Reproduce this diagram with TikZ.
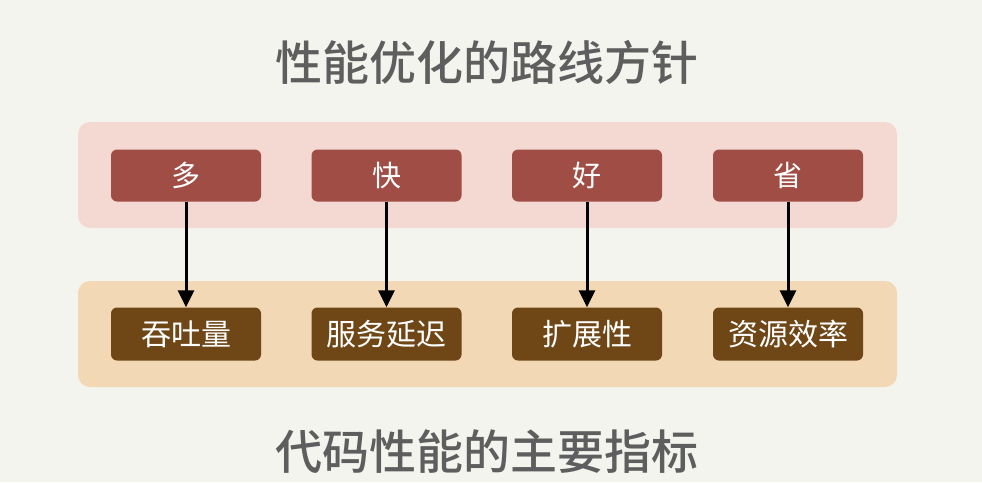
\documentclass[tikz,border=0pt]{standalone}
\usepackage{fontspec}
\newfontfamily\cjk{Noto Sans CJK SC}
\newfontfamily\cjkb{Noto Sans CJK SC Medium}
\usetikzlibrary{arrows.meta}
\definecolor{bgc}{HTML}{F4F4EF}
\definecolor{topband}{HTML}{F4D9D3}
\definecolor{botband}{HTML}{F2D8B4}
\definecolor{topbox}{HTML}{A04D45}
\definecolor{botbox}{HTML}{6F4616}
\definecolor{titlec}{HTML}{5E5E5E}
\tikzset{
  band/.style={draw=none, rounded corners=12pt, minimum width=819pt, minimum height=106pt, inner sep=0pt},
  topcell/.style={fill=topbox, rounded corners=6pt, minimum width=150pt, minimum height=52pt, inner sep=0pt, text=white, font=\cjk\fontsize{29pt}{32pt}\selectfont},
  botcell/.style={fill=botbox, rounded corners=6pt, minimum width=150pt, minimum height=53pt, inner sep=0pt, text=white, font=\cjk\fontsize{30pt}{33pt}\selectfont},
  titletext/.style={text=titlec, inner sep=0pt, font=\cjkb\fontsize{47pt}{52pt}\selectfont},
  link/.style={draw=black, line width=3pt, -{Triangle[width=16pt,length=17pt]}}
}
\begin{document}
\begin{tikzpicture}[x=1pt,y=-1pt]
\fill[bgc] (0,0) rectangle (982,482);
\useasboundingbox (0,0) rectangle (982,482);
\node[titletext] (t1) at (487,62) {性能优化的路线方针};
\node[band, fill=topband] (tb) at (487.5,175) {};
\node[band, fill=botband] (bb) at (487.5,334) {};
\node[topcell] (a1) at (186,175.5) {多};
\node[topcell] (a2) at (386.5,175.5) {快};
\node[topcell] (a3) at (587,175.5) {好};
\node[topcell] (a4) at (788,175.5) {省};
\node[botcell] (b1) at (186,334) {吞吐量};
\node[botcell] (b2) at (386.5,334) {服务延迟};
\node[botcell] (b3) at (587,334) {扩展性};
\node[botcell] (b4) at (788,334) {资源效率};
\foreach \i in {1,2,3,4} { \draw[link] (a\i.south) -- (b\i.north); }
\node[titletext] (t2) at (487,452) {代码性能的主要指标};
\end{tikzpicture}
\end{document}
